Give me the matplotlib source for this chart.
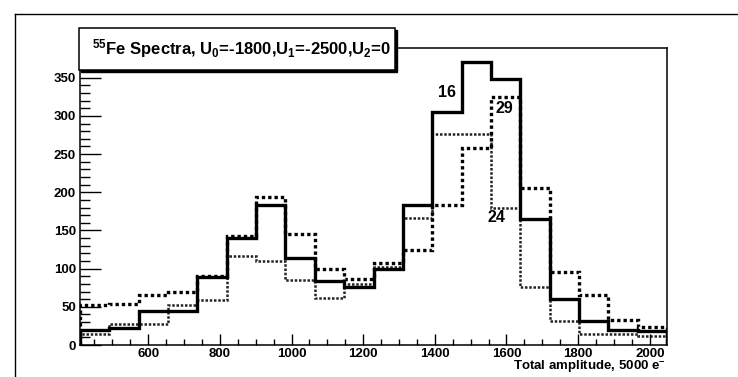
import numpy as np
import matplotlib
matplotlib.use("Agg")
import matplotlib.pyplot as plt
from matplotlib.patches import Rectangle
from matplotlib.lines import Line2D
from matplotlib.ticker import MultipleLocator

plt.rcParams["font.family"] = ["Liberation Sans", "DejaVu Sans"]
plt.rcParams["font.weight"] = "bold"
plt.rcParams["mathtext.fontset"] = "custom"
plt.rcParams["mathtext.rm"] = "Liberation Sans:bold"
plt.rcParams["mathtext.bf"] = "Liberation Sans:bold"
plt.rcParams["mathtext.it"] = "Liberation Sans:bold"
plt.rcParams["mathtext.default"] = "rm"

# histogram binning: 20 bins between 409.6 and 2048
x_lo = 409.6
x_hi = 2048.0
n_bins = 20

# counts per bin
spec_16 = [20, 22, 44, 44, 89, 140, 183, 114, 84, 76,
           99, 183, 305, 371, 348, 165, 60, 32, 20, 18]
spec_29 = [53, 54, 66, 69, 90, 143, 194, 146, 99, 86,
           108, 125, 184, 258, 325, 206, 96, 66, 33, 23]
spec_24 = [15, 27, 27, 53, 59, 116, 110, 85, 62, 80,
           102, 166, 277, 277, 180, 76, 31, 14, 14, 12]

labels = ["16", "29", "24"]
label_x = [1434, 1593, 1573]
label_y = [331, 310, 167]

title = r"$^{55}$Fe Spectra, U$_{0}$=-1800,U$_{1}$=-2500,U$_{2}$=0"
xlabel = r"Total amplitude, 5000 e$^{-}$"

W, H = 738, 377
fig = plt.figure(figsize=(W / 100, H / 100), dpi=100)
ax = fig.add_axes([80 / W, (H - 345) / H, 587 / W, 297 / H])

edges = np.linspace(x_lo, x_hi, n_bins + 1)
ax.stairs(spec_24, edges, color="#222222", lw=1.8, linestyle=(0, (1.0, 0.7)))
ax.stairs(spec_29, edges, color="black", lw=2.4, linestyle=(0, (1.0, 0.9)))
ax.stairs(spec_16, edges, color="black", lw=2.4)

for t, x, y in zip(labels, label_x, label_y):
    ax.text(x, y, t, fontsize=11.5, fontweight="bold", ha="center", va="center")

ax.set_xlim(x_lo, x_hi)
ax.set_ylim(0, 389)
ax.xaxis.set_major_locator(MultipleLocator(200))
ax.xaxis.set_minor_locator(MultipleLocator(50))
ax.yaxis.set_major_locator(MultipleLocator(50))
ax.yaxis.set_minor_locator(MultipleLocator(10))
ax.tick_params(axis="x", which="major", direction="in", length=8, width=1, labelsize=9.5, pad=2)
ax.tick_params(axis="x", which="minor", direction="in", length=4, width=1)
ax.tick_params(axis="y", which="major", direction="in", length=15, width=1, labelsize=9.5, pad=3)
ax.tick_params(axis="y", which="minor", direction="in", length=7, width=1)
ax.set_xticks([600, 800, 1000, 1200, 1400, 1600, 1800, 2000])
ax.set_yticks([0, 50, 100, 150, 200, 250, 300, 350])
for lab in ax.get_xticklabels() + ax.get_yticklabels():
    lab.set_fontweight("bold")
for s in ax.spines.values():
    s.set_linewidth(1.1)

fig.text(666 / W, (H - 367) / H, xlabel, ha="right", va="center", fontsize=9.5, fontweight="bold")

# title box with shadow
fig.patches.append(Rectangle((81 / W, (H - 72) / H), 316 / W, 42 / H, transform=fig.transFigure,
                             facecolor="black", edgecolor="black", zorder=5))
fig.patches.append(Rectangle((79 / W, (H - 70) / H), 316 / W, 42 / H, transform=fig.transFigure,
                             facecolor="white", edgecolor="black", lw=1.1, zorder=6))
fig.text(92 / W, (H - 49) / H, title, ha="left", va="center", fontsize=12, fontweight="bold", zorder=7)

# canvas border
fig.lines.append(Line2D([15 / W, 15 / W], [0, (H - 14) / H], transform=fig.transFigure, color="black", lw=1))
fig.lines.append(Line2D([15 / W, 1], [(H - 14) / H, (H - 14) / H], transform=fig.transFigure, color="black", lw=1))

fig.savefig("out.png", dpi=100)
plt.close(fig)
